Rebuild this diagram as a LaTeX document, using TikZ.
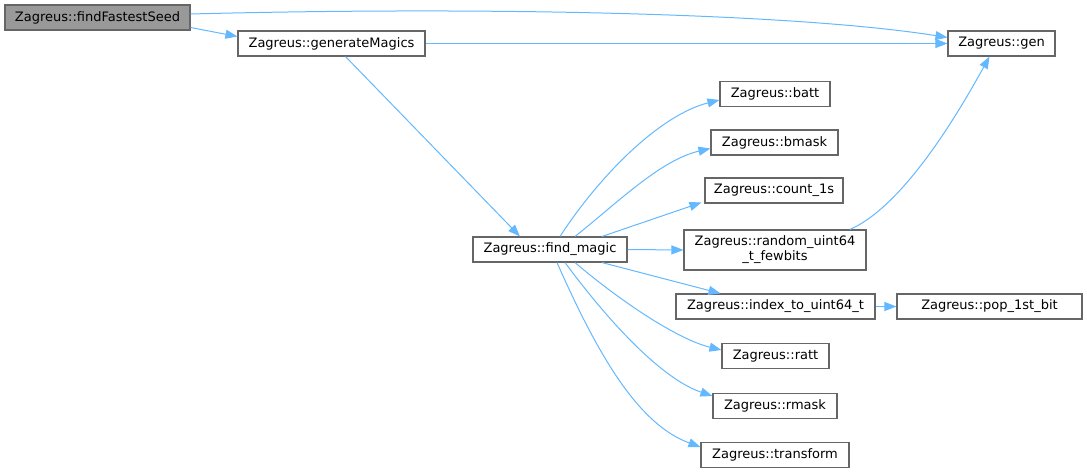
\documentclass[tikz,border=0pt]{standalone}
\usepackage{fontspec}
\setmainfont{DejaVu Sans}
\usetikzlibrary{arrows.meta,calc}
\definecolor{edgec}{HTML}{63B8FF}
\definecolor{bord}{HTML}{666666}
\definecolor{grayfill}{HTML}{999999}
\begin{document}
\begin{tikzpicture}[x=1pt,y=-1pt,
  fn/.style={draw=bord,line width=1.1pt,fill=white,inner sep=0pt,minimum height=25pt,font=\fontsize{13}{15}\selectfont,align=center},
  call/.style={draw=edgec,line width=1pt,-{Triangle[length=12pt,width=9pt]}}]
\useasboundingbox (0,0) rectangle (1087,473);
\node[fn,fill=grayfill,minimum width=185pt] (fast) at (97.5,17.5) {Zagreus::findFastestSeed};
\node[fn,minimum width=187pt] (genM) at (331.5,43.5) {Zagreus::generateMagics};
\node[fn,minimum width=107pt] (gen) at (1001.5,43.5) {Zagreus::gen};
\node[fn,minimum width=110pt] (batt) at (775,94) {Zagreus::batt};
\node[fn,minimum width=127pt] (bmask) at (774.5,142.5) {Zagreus::bmask};
\node[fn,minimum width=138pt] (count) at (774,190.5) {Zagreus::count\_1s};
\node[fn,minimum width=182pt,minimum height=40pt] (random) at (775,250) {Zagreus::random\_uint64\\\_t\_fewbits};
\node[fn,minimum width=154pt] (find) at (550,249.5) {Zagreus::find\_magic};
\node[fn,minimum width=199pt] (index) at (775.5,306.5) {Zagreus::index\_to\_uint64\_t};
\node[fn,minimum width=185pt] (pop) at (989.5,306.5) {Zagreus::pop\_1st\_bit};
\node[fn,minimum width=107pt] (ratt) at (775.5,356) {Zagreus::ratt};
\node[fn,minimum width=124pt] (rmask) at (775,406) {Zagreus::rmask};
\node[fn,minimum width=148pt] (transform) at (775,455) {Zagreus::transform};

\draw[call] ($(fast.east)+(0,-3.5)$) .. controls (500,6) and (800,14) .. ($(gen.west)+(0,-6)$);
\draw[call] ($(fast.east)+(0,10)$) -- ($(genM.west)+(0,-7)$);
\draw[call] (genM.east) -- (gen.west);
\draw[call] ($(genM.south)+(14,0)$) -- ($(find.north)+(-30,0)$);
\draw[call] ($(find.north)+(10,0)$) .. controls (600,175) and (660,115) .. ($(batt.west)+(0,6)$);
\draw[call] ($(find.north)+(25,0)$) .. controls (615,205) and (660,160) .. ($(bmask.west)+(0,6)$);
\draw[call] ($(find.north)+(52,0)$) -- ($(count.west)+(-3,12)$);
\draw[call] (find.east) -- (random.west);
\draw[call] ($(find.south)+(52,0)$) -- ($(index.north)+(-55,0)$);
\draw[call] ($(find.south)+(25,0)$) .. controls (625,305) and (680,340) .. ($(ratt.west)+(0,-6)$);
\draw[call] ($(find.south)+(15,0)$) .. controls (615,330) and (665,380) .. ($(rmask.west)+(0,-10)$);
\draw[call] ($(find.south)+(7,0)$) .. controls (600,360) and (640,425) .. ($(transform.west)+(0,-8)$);
\draw[call] ($(random.north)+(75,0)$) .. controls (905,205) and (960,110) .. ($(gen.south)+(-12,0)$);
\draw[call] (index.east) -- (pop.west);
\end{tikzpicture}
\end{document}
